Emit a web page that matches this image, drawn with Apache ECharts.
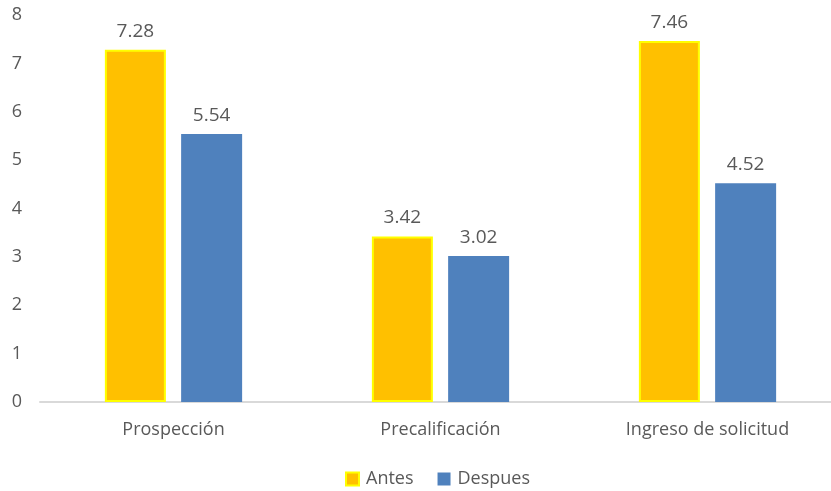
<!DOCTYPE html>
<html>
<head>
<meta charset="utf-8">
<script src="https://cdn.jsdelivr.net/npm/echarts@6/dist/echarts.min.js"></script>
<style>
    html, body { margin: 0; padding: 0; background: #fff; }
    #chart { width: 831px; height: 491px; }
</style>
</head>
<body>
<div id="chart"></div>
<script>
const categories = ['Prospección', 'Precalificación', 'Ingreso de solicitud'];
const antes = [7.28, 3.42, 7.46];
const despues = [5.54, 3.02, 4.52];
const yTicks = [0, 1, 2, 3, 4, 5, 6, 7, 8];

const txt = '#595959';
const font = '"Open Sans", "Noto Sans", sans-serif';

let chart = echarts.init(document.getElementById('chart'));

const option = {
    animation: false,
    textStyle: { fontFamily: font },
    grid: {
        left: 40,
        right: -10,
        top: 15,
        bottom: 89,
        outerBoundsMode: 'none'
    },
    legend: {
        left: 345,
        top: 470,
        padding: 0,
        itemWidth: 13,
        itemHeight: 13,
        itemGap: 24,
        textStyle: { color: txt, fontSize: 18, fontFamily: font, padding: [0, 0, 0, 2] },
        data: [
            { name: 'Antes', icon: 'rect', itemStyle: { color: '#FFC000', borderColor: '#FFFF00', borderWidth: 2 } },
            { name: 'Despues', icon: 'rect' }
        ]
    },
    xAxis: {
        type: 'category',
        data: categories,
        axisTick: { show: false },
        axisLine: { lineStyle: { color: '#d9d9d9', width: 2 } },
        axisLabel: { color: txt, fontSize: 18, margin: 19 }
    },
    yAxis: {
        type: 'value',
        min: yTicks[0],
        max: yTicks[yTicks.length - 1],
        interval: 1,
        splitLine: { show: false },
        axisLine: { show: false },
        axisTick: { show: false },
        axisLabel: { color: txt, fontSize: 18, margin: 18 }
    },
    series: [
        {
            name: 'Antes',
            type: 'bar',
            data: antes,
            barWidth: 61,
            barGap: '25%',
            itemStyle: { color: '#FFC000', borderColor: '#FFFF00', borderWidth: 2 },
            label: { show: true, position: 'top', distance: 9, color: txt, fontSize: 19, formatter: p => p.value.toFixed(2) }
        },
        {
            name: 'Despues',
            type: 'bar',
            data: despues,
            barWidth: 61,
            barGap: '25%',
            itemStyle: { color: '#4F81BD' },
            label: { show: true, position: 'top', distance: 9, color: txt, fontSize: 19, formatter: p => p.value.toFixed(2) }
        }
    ]
};

chart.setOption(option);
window.addEventListener('resize', function () {
    chart.resize();
});
</script>
</body>
</html>
